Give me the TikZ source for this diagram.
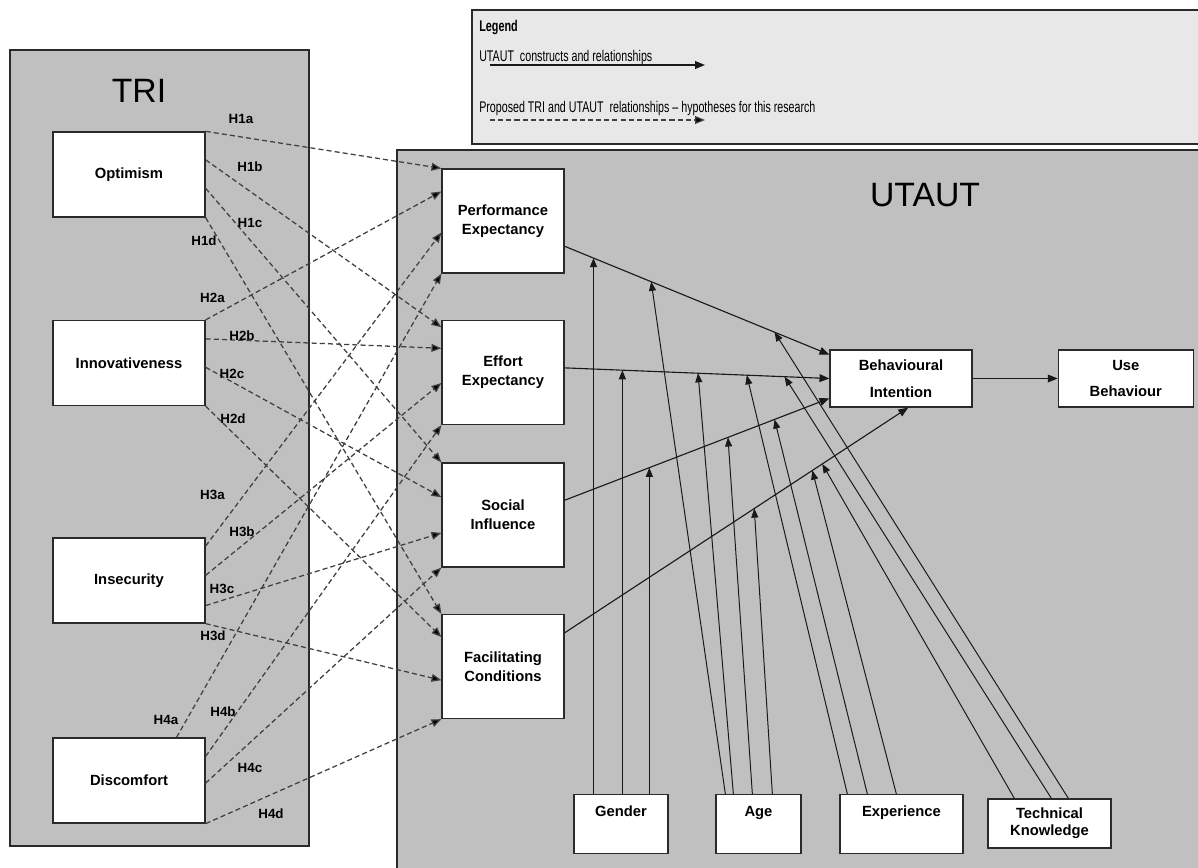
\documentclass[tikz,border=0pt]{standalone}
\usepackage{fontspec}
\setmainfont{Liberation Sans}
\usepackage{graphicx}
\usepackage{tikz}
\usetikzlibrary{positioning,arrows.meta,calc}
\definecolor{framegrey}{HTML}{C0C0C0}
\definecolor{legendgrey}{HTML}{E8E8E8}
\definecolor{edgegrey}{HTML}{2A2A2A}
\tikzset{
  framebox/.style={draw=edgegrey, line width=1pt, fill=framegrey, inner sep=0pt},
  legendbox/.style={draw=edgegrey, line width=1.2pt, fill=legendgrey, inner sep=0pt},
  conbox/.style={draw=edgegrey, line width=0.9pt, fill=white, align=center, inner sep=2pt, minimum width=3.05cm, minimum height=2.6cm, font=\bfseries\fontsize{10.5}{13.5}\selectfont},
  tribox/.style={conbox, minimum width=3.8cm, minimum height=2.125cm},
  outbox/.style={conbox, minimum height=1.425cm, font=\bfseries\fontsize{10.5}{19}\selectfont},
  modbox/.style={conbox, anchor=north, minimum height=0pt, inner ysep=7.5pt, text height=8pt, text depth=19pt},
  hyparrow/.style={-{Triangle[length=7pt,width=5.5pt,fill=black]}, dash pattern=on 3.6pt off 2.2pt, line width=0.9pt, black!75},
  relarrow/.style={-{Triangle[length=7pt,width=5.5pt]}, line width=0.8pt, black!90},
  modarrow/.style={-{Triangle[length=6.5pt,width=5pt]}, line width=0.7pt, black!90},
  hlabel/.style={font=\bfseries\fontsize{9.5}{11}\selectfont, inner sep=0pt},
  titletext/.style={font=\fontsize{24}{28}\selectfont, inner sep=0pt},
  legtext/.style={font=\fontsize{11}{13}\selectfont, inner sep=0pt, anchor=base west}
}

\begin{document}
\begin{tikzpicture}[x=0.025cm, y=-0.025cm]
  \useasboundingbox (0,0) rectangle (1198,868);
  \clip (0,0) rectangle (1198,868);

  % frames and titles
  \node[framebox, minimum width=7.475cm, minimum height=19.9cm] (tri) at (159.5,448) {};
  \node[framebox, minimum width=20.45cm, minimum height=18.375cm] (utaut) at (806,517.5) {};
  \node[legendbox, minimum width=18.575cm, minimum height=3.35cm] (legend) at (843.5,77) {};
  \node[titletext] (trititle) at (139,91) {TRI};
  \node[titletext] (uttitle) at (925,195) {UTAUT};

  % legend
  \node[legtext, font=\bfseries\fontsize{11}{13}\selectfont] (leghead) at (479,31) {\scalebox{0.7}[1]{Legend}};
  \node[legtext] (legsolid) at (479,61) {\scalebox{0.69}[1]{UTAUT\ \ constructs and relationships}};
  \node[legtext] (legdash) at (479,112) {\scalebox{0.69}[1]{Proposed TRI and UTAUT\ \ relationships – hypotheses for this research}};
  \coordinate (solidbeg) at (490,65);
  \coordinate (solidend) at (705,65);
  \coordinate (dashbeg) at (490,120);
  \coordinate (dashend) at (705,120);
  \draw[relarrow] (solidbeg) -- (solidend);
  \draw[hyparrow] (dashbeg) -- (dashend);

  % TRI dimensions
  \node[tribox] (opt) at (129,174.5) {Optimism};
  \node[tribox] (inn) at (129,363) {Innovativeness};
  \node[tribox] (ins) at (129,580.5) {Insecurity};
  \node[tribox] (dis) at (129,780.5) {Discomfort};

  % UTAUT constructs
  \node[conbox] (pe) at (503,221) {Performance\\Expectancy};
  \node[conbox] (ee) at (503,372.5) {Effort\\Expectancy};
  \node[conbox] (si) at (503,515) {Social\\Influence};
  \node[conbox] (fc) at (503,666.5) {Facilitating\\Conditions};
  \node[outbox, minimum width=3.55cm] (bi) at (901,378.5) {Behavioural\\Intention};
  \node[outbox, minimum width=3.375cm, right=2.125cm of bi] (ub) {Use\\Behaviour};

  % moderators
  \node[modbox, minimum width=2.35cm] (gen) at (621,794) {Gender};
  \node[modbox, minimum width=2.125cm] (age) at (758.5,794) {Age};
  \node[modbox, minimum width=3.075cm] (exp) at (901.5,794) {Experience};
  \node[conbox, minimum width=3.075cm, minimum height=1.225cm, font=\bfseries\fontsize{10.5}{12}\selectfont] (tk) at (1049.5,823.5) {Technical\\Knowledge};

  % hypotheses H1--H4
  \draw[hyparrow] (opt.north east) -- (pe.north west);
  \draw[hyparrow] ($(opt.north east)!0.33!(opt.south east)$) -- ($(ee.north west)!0.07!(ee.south west)$);
  \draw[hyparrow] ($(opt.north east)!0.66!(opt.south east)$) -- (si.north west);
  \draw[hyparrow] (opt.south east) -- (fc.north west);
  \draw[hyparrow] (inn.north east) -- ($(pe.north west)!0.22!(pe.south west)$);
  \draw[hyparrow] ($(inn.north east)!0.22!(inn.south east)$) -- ($(ee.north west)!0.27!(ee.south west)$);
  \draw[hyparrow] ($(inn.north east)!0.55!(inn.south east)$) -- ($(si.north west)!0.33!(si.south west)$);
  \draw[hyparrow] (inn.south east) -- ($(fc.north west)!0.22!(fc.south west)$);
  \draw[hyparrow] ($(ins.north east)!0.1!(ins.south east)$) -- ($(pe.north west)!0.61!(pe.south west)$);
  \draw[hyparrow] ($(ins.north east)!0.44!(ins.south east)$) -- ($(ee.north west)!0.6!(ee.south west)$);
  \draw[hyparrow] ($(ins.north east)!0.79!(ins.south east)$) -- ($(si.north west)!0.67!(si.south west)$);
  \draw[hyparrow] (ins.south east) -- ($(fc.north west)!0.63!(fc.south west)$);
  \draw[hyparrow] ($(dis.north west)!0.81!(dis.north east)$) -- (pe.south west);
  \draw[hyparrow] ($(dis.north east)!0.22!(dis.south east)$) -- (ee.south west);
  \draw[hyparrow] ($(dis.north east)!0.53!(dis.south east)$) -- (si.south west);
  \draw[hyparrow] (dis.south east) -- (fc.south west);

  \node[hlabel] (h1a) at (241,119) {H1a};
  \node[hlabel] (h1b) at (250,167) {H1b};
  \node[hlabel] (h1c) at (250,223) {H1c};
  \node[hlabel] (h1d) at (204,241) {H1d};
  \node[hlabel] (h2a) at (212.5,298) {H2a};
  \node[hlabel] (h2b) at (242,336) {H2b};
  \node[hlabel] (h2c) at (232,374) {H2c};
  \node[hlabel] (h2d) at (233,419) {H2d};
  \node[hlabel] (h3a) at (212.5,495) {H3a};
  \node[hlabel] (h3b) at (242,532) {H3b};
  \node[hlabel] (h3c) at (222,589) {H3c};
  \node[hlabel] (h3d) at (213,636) {H3d};
  \node[hlabel] (h4a) at (166,720) {H4a};
  \node[hlabel] (h4b) at (223,712) {H4b};
  \node[hlabel] (h4c) at (250,768) {H4c};
  \node[hlabel] (h4d) at (271,814) {H4d};

  % UTAUT relationships
  \draw[relarrow] ($(pe.north east)!0.74!(pe.south east)$) -- coordinate[pos=0.109] (pegen) coordinate[pos=0.327] (peage) coordinate[pos=0.793] (petk) ($(bi.north west)!0.09!(bi.south west)$);
  \draw[relarrow] ($(ee.north east)!0.456!(ee.south east)$) -- coordinate[pos=0.218] (eegen) coordinate[pos=0.504] (eeage) coordinate[pos=0.688] (eeexp) coordinate[pos=0.831] (eetk) (bi.west);
  \draw[relarrow] ($(si.north east)!0.36!(si.south east)$) -- coordinate[pos=0.32] (sigen) coordinate[pos=0.617] (siage) coordinate[pos=0.793] (siexp) ($(bi.north west)!0.84!(bi.south west)$);
  \draw[relarrow] ($(fc.north east)!0.18!(fc.south east)$) -- coordinate[pos=0.552] (fcage) coordinate[pos=0.721] (fcexp) coordinate[pos=0.75] (fctk) ($(bi.south west)!0.55!(bi.south east)$);
  \draw[relarrow] (bi) -- (ub);

  % moderating effects
  \draw[modarrow] (pegen |- gen.north) -- (pegen);
  \draw[modarrow] (eegen |- gen.north) -- (eegen);
  \draw[modarrow] (sigen |- gen.north) -- (sigen);
  \draw[modarrow] ($(age.north west)+(10,0)$) -- (peage);
  \draw[modarrow] ($(age.north west)+(18,0)$) -- (eeage);
  \draw[modarrow] ($(age.north west)+(37,0)$) -- (siage);
  \draw[modarrow] ($(age.north west)+(57,0)$) -- (fcage);
  \draw[modarrow] ($(exp.north west)+(8,0)$) -- (eeexp);
  \draw[modarrow] ($(exp.north west)+(28,0)$) -- (siexp);
  \draw[modarrow] ($(exp.north west)+(57,0)$) -- (fcexp);
  \draw[modarrow] ($(tk.north west)+(27,0)$) -- (fctk);
  \draw[modarrow] ($(tk.north west)+(64,0)$) -- (eetk);
  \draw[modarrow] ($(tk.north west)+(81,0)$) -- (petk);
\end{tikzpicture}
\end{document}
